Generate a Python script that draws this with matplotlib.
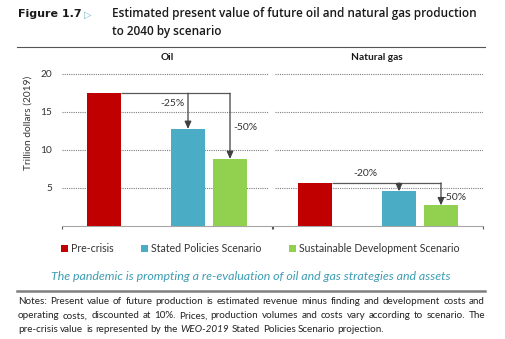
import matplotlib
matplotlib.use("Agg")
import matplotlib.pyplot as plt
from matplotlib.patches import Patch
from matplotlib.lines import Line2D

# ---------------- data ----------------
panels = ["Oil", "Natural gas"]
scenarios = ["Pre-crisis", "Stated Policies Scenario", "Sustainable Development Scenario"]
oil_values = [17.4, 12.7, 8.75]
gas_values = [5.6, 4.5, 2.65]
oil_changes = ["-25%", "-50%"]
gas_changes = ["-20%", "-50%"]
y_ticks = [5, 10, 15, 20]
y_label = "Trillion dollars (2019)"

colors = ["#C00000", "#4BACC6", "#92D050"]
W, H = 505, 339
FONT = ["Lato", "DejaVu Sans"]
plt.rcParams["font.family"] = FONT

fig = plt.figure(figsize=(W / 100, H / 100), dpi=100)
renderer = fig.canvas.get_renderer()


def fx(px):
    return px / W


def fy(py):
    return 1 - py / H


def measure(s, **kw):
    t = fig.text(0, 0, s, **kw)
    w = t.get_window_extent(renderer).width
    t.remove()
    return w


def fit_size(s, target, **kw):
    base = 8.0
    w = measure(s, fontsize=base, **kw)
    return base * target / w


def place_words(words, y, x0, x1, justify, size, color="#222222"):
    widths = [measure(w, fontsize=size, style=st) for w, st in words]
    sp = measure("a a", fontsize=size) - measure("aa", fontsize=size)
    if justify and len(words) > 1:
        gap = (x1 - x0 - sum(widths)) / (len(words) - 1)
    else:
        gap = sp
    x = x0
    for (w, st), wd in zip(words, widths):
        fig.text(fx(x), fy(y), w, fontsize=size, style=st, color=color,
                 ha="left", va="center")
        x += wd + gap


# ---------------- header ----------------
title1 = "Estimated present value of future oil and natural gas production"
title2 = "to 2040 by scenario"
TF = ["Open Sans", "DejaVu Sans"]
ts = fit_size(title1, 362, fontweight="semibold", family=TF)
fs = fit_size("Figure 1.7", 64, fontweight="bold", family=["DejaVu Sans"])
fig.text(fx(18), fy(14), "Figure 1.7", fontsize=fs, fontweight="bold", family=["DejaVu Sans"],
         ha="left", va="center", color="#1a1a1a")
fig.text(fx(84), fy(14.5), "▷", fontsize=7, family=["DejaVu Sans"],
         ha="left", va="center", color="#7FB8C8")
fig.text(fx(112), fy(14), title1, family=TF,
         fontsize=ts, fontweight="semibold", ha="left", va="center", color="#1a1a1a")
fig.text(fx(112), fy(32), title2, family=TF,
         fontsize=ts, fontweight="semibold", ha="left", va="center", color="#1a1a1a")
fig.add_artist(Line2D([fx(17), fx(485)], [fy(46.5), fy(46.5)], color="#555555", lw=0.8))

# ---------------- axes ----------------
y0_px, px_per_unit = 225.5, 7.6
ymax = 21
ax_bottom = fy(y0_px)
ax_height = ymax * px_per_unit / H
axes_px = [(62, 272), (273, 483)]
positions = [1, 3, 4]
bw = 0.83
series = [oil_values, gas_values]
changes = [oil_changes, gas_changes]
grid_span = [(0.0, 0.98), (0.01, 1.0)]

for i, (l, r) in enumerate(axes_px):
    ax = fig.add_axes([fx(l), ax_bottom, (r - l) / W, ax_height])
    ax.set_xlim(0, 5)
    ax.set_ylim(0, ymax)
    vals = series[i]
    for p, v, c in zip(positions, vals, colors):
        ax.bar(p, v, width=bw, color=c, zorder=3)
    for t in y_ticks:
        ax.axhline(t, xmin=grid_span[i][0], xmax=grid_span[i][1], color="#7f7f7f",
                   lw=0.8, linestyle=(0, (1, 1)), zorder=1)
    for s in ["top", "right", "left"]:
        ax.spines[s].set_visible(False)
    ax.spines["bottom"].set_color("#a6a6a6")
    ax.spines["bottom"].set_linewidth(0.8)
    ax.set_xticks([0, 5])
    ax.set_xticklabels([])
    ax.tick_params(axis="x", length=2.5, width=0.8, color="#555555", direction="out")
    if i == 0:
        ax.set_yticks(y_ticks)
        ax.set_yticklabels([str(t) for t in y_ticks])
        ax.tick_params(axis="y", length=0, pad=7, labelsize=7.3, labelcolor="#333333")
    else:
        ax.set_yticks([])

    # change arrows
    top = vals[0]
    x_start = positions[0] + bw / 2
    x_end = positions[2]
    ax.plot([x_start, x_end], [top, top], color="#595959", lw=0.9, zorder=4,
            solid_capstyle="butt")
    for k in [1, 2]:
        ax.annotate("", xy=(positions[k], vals[k]), xytext=(positions[k], top),
                    arrowprops=dict(arrowstyle="-|>,head_length=0.45,head_width=0.2",
                                    color="#404040", lw=0.9, shrinkA=0, shrinkB=0),
                    zorder=5)
    if i == 0:
        ax.text(2.62, 16.0, changes[i][0], fontsize=7.5, ha="center", va="center", color="#333333")
        ax.text(4.07, 12.96, changes[i][1], fontsize=7.5, ha="left", va="center", color="#333333")
    else:
        ax.text(2.2, 6.9, changes[i][0], fontsize=7.5, ha="center", va="center", color="#333333")
        ax.text(4.03, 3.75, changes[i][1], fontsize=7.5, ha="left", va="center", color="#333333")

fig.text(fx(167), fy(57), panels[0], fontsize=7.3, fontweight="bold",
         ha="center", va="center", color="#1a1a1a")
fig.text(fx(377), fy(57), panels[1], fontsize=7.3, fontweight="bold",
         ha="center", va="center", color="#1a1a1a")
fig.text(fx(28.5), fy(122.5), y_label, rotation=90, fontsize=7.3,
         ha="center", va="center", color="#333333")

# ---------------- legend ----------------
handles = [Patch(facecolor=c, edgecolor="none") for c in colors]
fig.legend(handles, scenarios, loc="center", bbox_to_anchor=(fx(260), fy(249)),
           ncol=3, frameon=False, fontsize=7.6, handlelength=0.65, handleheight=0.65,
           handletextpad=0.3, columnspacing=2.6, labelcolor="#333333")

# ---------------- caption ----------------
caption = "The pandemic is prompting a re-evaluation of oil and gas strategies and assets"
cs = fit_size(caption, 402, style="italic")
fig.text(fx(251), fy(277), caption,
         fontsize=cs, style="italic", ha="center", va="center", color="#3E9DB3")
fig.add_artist(Line2D([fx(17), fx(485)], [fy(291), fy(291)], color="#7f7f7f", lw=1.8))

# ---------------- notes ----------------
l1 = "Notes: Present value of future production is estimated revenue minus finding and development costs and"
l2 = "operating costs, discounted at 10%. Prices, production volumes and costs vary according to scenario. The"
note_size = fit_size(l1, 458)
place_words([(w, "normal") for w in l1.split()], 302, 18, 485, True, note_size)
place_words([(w, "normal") for w in l2.split()], 316, 18, 485, True, note_size)
l3 = [(w, "normal") for w in "pre-crisis value is represented by the".split()] + [("WEO-2019", "italic")] + \
     [(w, "normal") for w in "Stated Policies Scenario projection.".split()]
place_words(l3, 329, 18, 485, False, note_size)

fig.savefig("out.png", dpi=100)
